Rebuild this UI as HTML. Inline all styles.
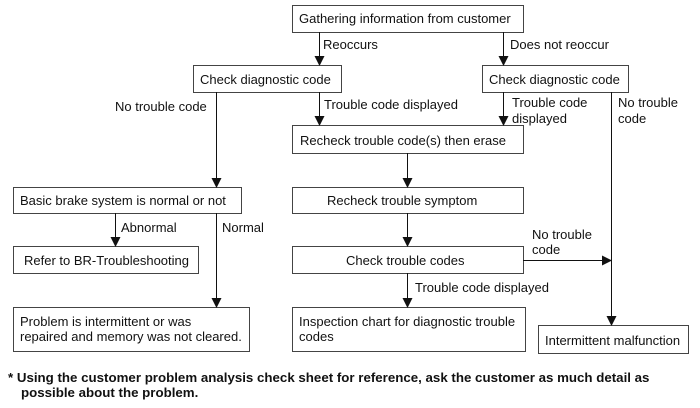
<!DOCTYPE html>
<html><head><style>
html,body{margin:0;padding:0;background:#fff;}
svg{display:block;}
text{font-family:"Liberation Sans",Arial,sans-serif;font-size:13px;fill:#111;}
.b{fill:#fff;stroke:#444;stroke-width:1;}
.l{stroke:#111;stroke-width:1;fill:none;}
.f{font-weight:bold;font-size:13.3px;}
</style></head><body>
<svg width="700" height="408" viewBox="0 0 700 408" xmlns="http://www.w3.org/2000/svg">
<defs><marker id="a" markerWidth="10" markerHeight="10" refX="9" refY="5" orient="auto" markerUnits="userSpaceOnUse"><path d="M0,0 L10,5 L0,10 z" fill="#111"/></marker></defs>
<rect class="b" x="292.5" y="5.5" width="231" height="27"/>
<text x="299" y="23">Gathering information from customer</text>
<rect class="b" x="193.5" y="65.5" width="148" height="27"/>
<text x="200" y="84">Check diagnostic code</text>
<rect class="b" x="482.5" y="65.5" width="146" height="27"/>
<text x="489" y="84">Check diagnostic code</text>
<rect class="b" x="292.5" y="125.5" width="231" height="28"/>
<text x="300" y="145">Recheck trouble code(s) then erase</text>
<rect class="b" x="292.5" y="187.5" width="231" height="26"/>
<text x="327" y="205">Recheck trouble symptom</text>
<rect class="b" x="292.5" y="246.5" width="231" height="27"/>
<text x="346" y="265">Check trouble codes</text>
<rect class="b" x="292.5" y="307.5" width="233" height="44"/>
<text x="299" y="326">Inspection chart for diagnostic trouble</text>
<text x="299" y="341">codes</text>
<rect class="b" x="538.5" y="325.5" width="150" height="28"/>
<text x="545" y="345">Intermittent malfunction</text>
<rect class="b" x="13.5" y="187.5" width="228" height="26"/>
<text x="20" y="205">Basic brake system is normal or not</text>
<rect class="b" x="13.5" y="246.5" width="185" height="27"/>
<text x="24" y="265">Refer to BR-Troubleshooting</text>
<rect class="b" x="13.5" y="307.5" width="236" height="44"/>
<text x="20" y="326">Problem is intermittent or was</text>
<text x="20" y="341">repaired and memory was not cleared.</text>
<line class="l" x1="319.5" y1="32" x2="319.5" y2="65" marker-end="url(#a)"/>
<text x="323" y="49">Reoccurs</text>
<line class="l" x1="503.5" y1="32" x2="503.5" y2="65" marker-end="url(#a)"/>
<text x="510" y="49">Does not reoccur</text>
<line class="l" x1="319.5" y1="92" x2="319.5" y2="125" marker-end="url(#a)"/>
<text x="324" y="109">Trouble code displayed</text>
<line class="l" x1="216.5" y1="92" x2="216.5" y2="187" marker-end="url(#a)"/>
<text x="115" y="111">No trouble code</text>
<line class="l" x1="503.5" y1="92" x2="503.5" y2="125" marker-end="url(#a)"/>
<text x="512" y="107">Trouble code</text>
<text x="512" y="123">displayed</text>
<line class="l" x1="611.5" y1="92" x2="611.5" y2="325" marker-end="url(#a)"/>
<text x="618" y="107">No trouble</text>
<text x="618" y="123">code</text>
<line class="l" x1="407.5" y1="153" x2="407.5" y2="187" marker-end="url(#a)"/>
<line class="l" x1="407.5" y1="213" x2="407.5" y2="246" marker-end="url(#a)"/>
<line class="l" x1="523" y1="260.5" x2="611" y2="260.5" marker-end="url(#a)"/>
<text x="532" y="239">No trouble</text>
<text x="532" y="254">code</text>
<line class="l" x1="407.5" y1="273" x2="407.5" y2="307" marker-end="url(#a)"/>
<text x="415" y="292">Trouble code displayed</text>
<line class="l" x1="115.5" y1="213" x2="115.5" y2="246" marker-end="url(#a)"/>
<text x="121" y="232">Abnormal</text>
<line class="l" x1="216.5" y1="213" x2="216.5" y2="307" marker-end="url(#a)"/>
<text x="222" y="232">Normal</text>
<text class="f" x="8" y="382">* Using the customer problem analysis check sheet for reference, ask the customer as much detail as</text>
<text class="f" x="21" y="397">possible about the problem.</text>
</svg>
</body></html>
